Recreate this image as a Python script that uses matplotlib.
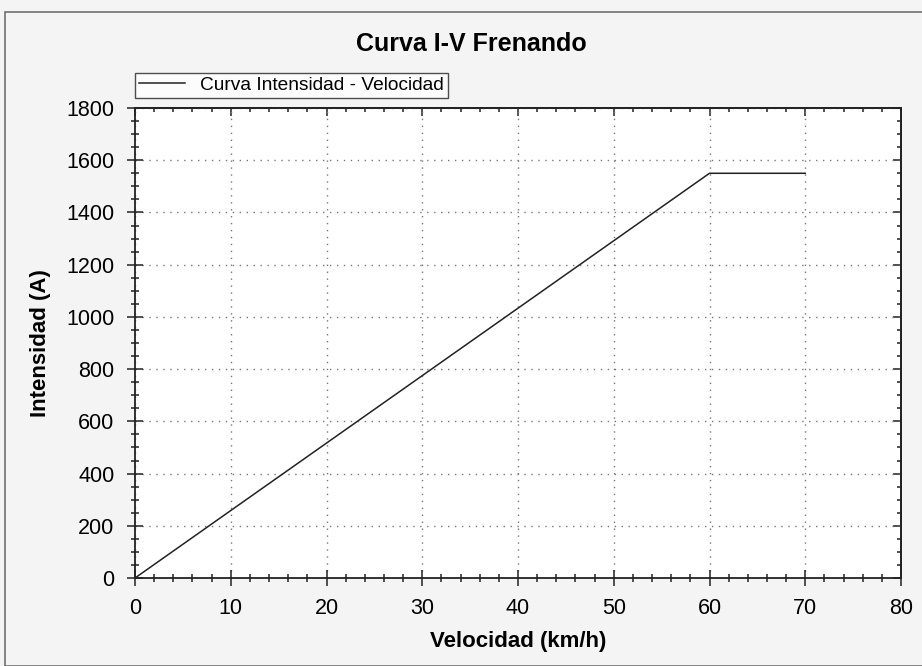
import numpy as np
import matplotlib.pyplot as plt
from matplotlib.patches import Rectangle
from matplotlib.ticker import MultipleLocator

plt.rcParams['font.family'] = ['Liberation Sans', 'DejaVu Sans']

# data
velocidad = [0, 60, 70]
intensidad = [0, 1550, 1550]

fig = plt.figure(figsize=(9.22, 6.66), dpi=100)
fig.patch.set_facecolor('#f4f4f4')
fig.patches.append(Rectangle((5/922, 0), 1.2, 1 - 12/666, transform=fig.transFigure,
                             fill=False, edgecolor='#707070', lw=1.2))

ax = fig.add_axes([135/922, 1 - 578/666, (901-135)/922, (578-108)/666])
ax.plot(velocidad, intensidad, color='#222222', lw=1.1, label='Curva Intensidad - Velocidad')

ax.set_xlim(0, 80)
ax.set_ylim(0, 1800)
ax.xaxis.set_major_locator(MultipleLocator(10))
ax.xaxis.set_minor_locator(MultipleLocator(2))
ax.yaxis.set_major_locator(MultipleLocator(200))
ax.yaxis.set_minor_locator(MultipleLocator(50))
ax.tick_params(which='both', direction='inout', color='#222222', width=1.1)
ax.tick_params(which='major', length=11.5, labelsize=15.5)
ax.tick_params(axis='x', which='major', pad=9)
ax.tick_params(axis='y', which='major', pad=9)
ax.tick_params(which='minor', length=6)
for s in ax.spines.values():
    s.set_linewidth(1.3)
    s.set_color('#222222')
ax.grid(True, which='major', linestyle=(0, (1, 4)), color='#777777', lw=1)

# top and right ticks point inward only
top = ax.secondary_xaxis('top')
right = ax.secondary_yaxis('right')
top.xaxis.set_major_locator(MultipleLocator(10))
top.xaxis.set_minor_locator(MultipleLocator(2))
right.yaxis.set_major_locator(MultipleLocator(200))
right.yaxis.set_minor_locator(MultipleLocator(50))
for sec in (top, right):
    sec.tick_params(which='both', direction='in', color='#222222', width=1.1,
                    labelleft=False, labelright=False, labeltop=False, labelbottom=False)
    sec.tick_params(which='major', length=6)
    sec.tick_params(which='minor', length=3)
    for s in sec.spines.values():
        s.set_linewidth(1.3)
        s.set_color('#222222')

fig.text(471/922, 1 - 44/666, 'Curva I-V Frenando', fontsize=18, fontweight='bold',
         ha='center', va='center')
ax.set_xlabel('Velocidad (km/h)', fontsize=16, fontweight='bold', labelpad=8)
ax.set_ylabel('Intensidad (A)', fontsize=16, fontweight='bold', labelpad=11)

leg = ax.legend(loc='lower left', bbox_to_anchor=(0.0, 1 + 10/470), fontsize=13.8,
                frameon=True, fancybox=False, borderpad=0.2, handlelength=2.4,
                borderaxespad=0, handletextpad=0.8)
leg.get_frame().set_edgecolor('#222222')
leg.get_frame().set_linewidth(1)

fig.savefig('out.png', dpi=100, facecolor=fig.get_facecolor())
